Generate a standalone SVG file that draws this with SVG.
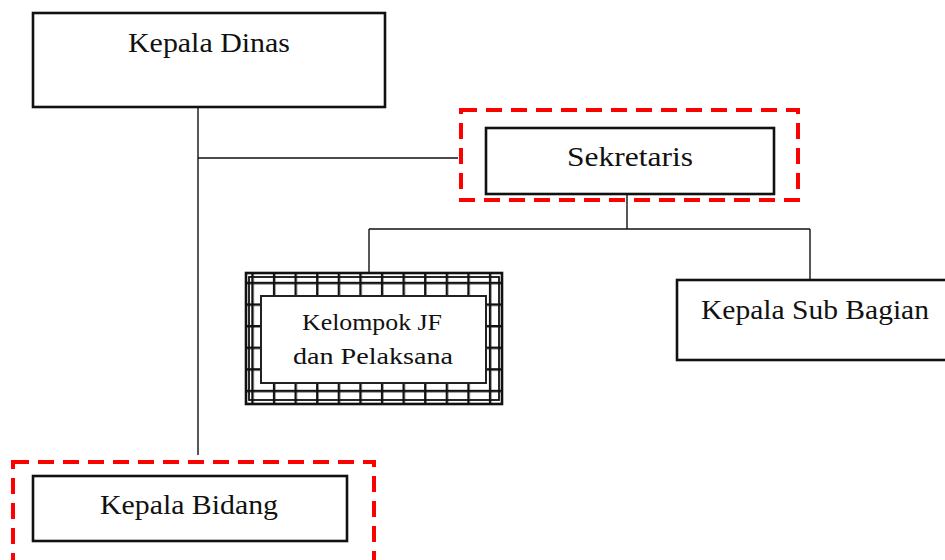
<svg xmlns="http://www.w3.org/2000/svg" width="945" height="560" viewBox="0 0 945 560">
<style>
.box{fill:#fff;stroke:#111;stroke-width:2.6}
.dash{fill:none;stroke:#f00;stroke-width:4;stroke-dasharray:16 9}
.conn{fill:none;stroke:#111;stroke-width:1.4}
.t{font-family:"Liberation Serif","DejaVu Serif",serif;font-size:28px;fill:#111;text-anchor:middle}
.ts{font-family:"Liberation Serif","DejaVu Serif",serif;font-size:24px;fill:#111;text-anchor:middle}
</style>
<defs>
<pattern id="grid" patternUnits="userSpaceOnUse" x="251.3" y="281.8" width="21.6" height="21.6">
<rect width="21.6" height="21.6" fill="#fff"/>
<path d="M1.2 0V21.6M0 1.2H21.6" stroke="#111" stroke-width="2.4"/>
</pattern>
</defs>
<g id="connectors">
<path class="conn" d="M198 107V455"/>
<path class="conn" d="M198 158H458"/>
<path class="conn" d="M627 194V229"/>
<path class="conn" d="M369 229H810"/>
<path class="conn" d="M369 229V273"/>
<path class="conn" d="M810 229V280"/>
</g>
<g id="kepala-dinas">
<rect class="box" x="33" y="13" width="352" height="94" stroke-width="3"/>
<text class="t" x="209" y="52" textLength="162" lengthAdjust="spacingAndGlyphs">Kepala Dinas</text>
</g>
<g id="sekretaris">
<rect class="dash" x="461" y="110" width="337" height="90"/>
<rect class="box" x="486" y="128" width="288" height="66"/>
<text class="t" x="630" y="166" textLength="126" lengthAdjust="spacingAndGlyphs">Sekretaris</text>
</g>
<g id="kelompok-jf">
<rect x="246" y="273" width="256" height="131" fill="url(#grid)" stroke="#111" stroke-width="2.6"/>
<rect x="249" y="277" width="250" height="123" fill="none" stroke="#111" stroke-width="1.8"/>
<rect x="261" y="296" width="225" height="87" fill="#fff" stroke="#222" stroke-width="2"/>
<text class="ts" x="372" y="330" textLength="140" lengthAdjust="spacingAndGlyphs">Kelompok JF</text>
<text class="ts" x="373" y="364" textLength="160" lengthAdjust="spacingAndGlyphs">dan Pelaksana</text>
</g>
<g id="kepala-sub-bagian">
<rect class="box" x="677" y="280" width="280" height="80"/>
<text class="t" x="815" y="319" textLength="228" lengthAdjust="spacingAndGlyphs">Kepala Sub Bagian</text>
</g>
<g id="kepala-bidang">
<rect class="dash" x="13" y="462" width="361" height="130"/>
<rect class="box" x="33" y="476" width="314" height="65"/>
<text class="t" x="189" y="514" textLength="178" lengthAdjust="spacingAndGlyphs">Kepala Bidang</text>
</g>
</svg>
